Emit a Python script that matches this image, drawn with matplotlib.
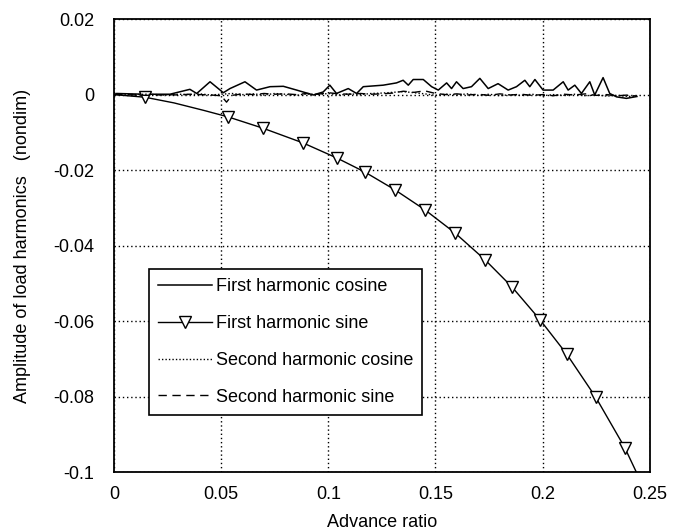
import matplotlib
matplotlib.use('Agg')
import matplotlib.pyplot as plt

plt.rcParams['font.family'] = ['Liberation Sans', 'DejaVu Sans']

# first harmonic cosine (noisy, slightly positive)
cos1_x = [0.0, 0.0012, 0.0137, 0.0261, 0.0354, 0.0386, 0.0448, 0.0510, 0.0541,
          0.0611, 0.0665, 0.0728, 0.0790, 0.0852, 0.0930, 0.0976, 0.1007, 0.1038,
          0.1093, 0.1132, 0.1163, 0.1256, 0.1318, 0.1349, 0.1373, 0.1396, 0.1443,
          0.1482, 0.1513, 0.1552, 0.1575, 0.1598, 0.1629, 0.1668, 0.1707, 0.1746,
          0.1792, 0.1839, 0.1878, 0.1917, 0.1940, 0.1964, 0.2002, 0.2049, 0.2096,
          0.2119, 0.2150, 0.2181, 0.2220, 0.2243, 0.2282, 0.2313, 0.2345, 0.2391,
          0.2440]
cos1_y = [0.0, 0.0003, 0.0001, 0.0001, 0.0014, 0.0003, 0.0034, 0.0005, 0.0016,
          0.0034, 0.0012, 0.0021, 0.0022, 0.0012, -0.0001, 0.0007, 0.0025, 0.0003,
          0.0016, 0.0003, 0.0021, 0.0025, 0.0031, 0.0038, 0.0025, 0.0040, 0.0040,
          0.0021, 0.0012, 0.0031, 0.0016, 0.0034, 0.0016, 0.0021, 0.0043, 0.0016,
          0.0029, 0.0012, 0.0021, 0.0038, 0.0021, 0.0040, 0.0012, 0.0012, 0.0034,
          0.0012, 0.0025, 0.0003, 0.0034, -0.0001, 0.0045, 0.0003, -0.0006, -0.0010,
          -0.0005]

# first harmonic sine (falls off with advance ratio)
sin1_x = [0.0, 0.0145, 0.0280, 0.0420, 0.0532, 0.0695, 0.0882, 0.1040, 0.1170,
          0.1310, 0.1450, 0.1590, 0.1730, 0.1856, 0.1987, 0.2113, 0.2248, 0.2383,
          0.2437]
sin1_y = [0.0, -0.0007, -0.0022, -0.0042, -0.0059, -0.0089, -0.0128, -0.0168, -0.0205,
          -0.0252, -0.0305, -0.0366, -0.0437, -0.0509, -0.0596, -0.0688, -0.0802, -0.0935,
          -0.1000]
sin1_marks = [1, 4, 5, 6, 7, 8, 9, 10, 11, 12, 13, 14, 15, 16, 17]

# second harmonics, both hovering around zero
h2_x = [0.0, 0.005, 0.01, 0.015, 0.02, 0.025, 0.03, 0.035, 0.04, 0.045,
        0.05, 0.0525, 0.055, 0.06, 0.065, 0.07, 0.075, 0.08, 0.085, 0.09,
        0.095, 0.1, 0.105, 0.11, 0.115, 0.12, 0.125, 0.13, 0.135, 0.14,
        0.145, 0.15, 0.155, 0.16, 0.165, 0.17, 0.175, 0.18, 0.185, 0.19,
        0.195, 0.2, 0.205, 0.21, 0.215, 0.22, 0.225, 0.23, 0.235, 0.24, 0.244]
cos2_y = [0.0, 0.0001, 0.0, 0.0001, 0.0, -0.0001, 0.0001, 0.0, 0.0002, -0.0001,
          0.0001, 0.0002, 0.0003, 0.0, 0.0002, -0.0001, 0.0003, 0.0001, -0.0002, 0.0002,
          0.0, 0.0003, -0.0001, 0.0002, 0.0, 0.0003, 0.0004, 0.0006, 0.0008, 0.0005,
          0.0002, -0.0002, 0.0001, -0.0001, 0.0002, -0.0002, 0.0001, -0.0003, 0.0, -0.0002,
          0.0001, -0.0003, 0.0, -0.0002, 0.0001, -0.0003, -0.0001, -0.0004, -0.0002, -0.0005, -0.0004]
sin2_y = [0.0, 0.0, -0.0001, -0.0002, -0.0001, 0.0, -0.0001, 0.0001, 0.0, -0.0001,
          -0.0003, -0.0020, -0.0002, 0.0002, 0.0, 0.0003, 0.0001, 0.0002, 0.0, 0.0003,
          0.0001, 0.0005, 0.0002, 0.0001, 0.0003, 0.0001, 0.0002, 0.0004, 0.0009, 0.0006,
          0.0010, 0.0003, 0.0, 0.0002, -0.0001, 0.0001, -0.0002, 0.0002, -0.0001, 0.0001,
          -0.0002, 0.0, -0.0003, 0.0001, -0.0001, 0.0002, -0.0002, 0.0, -0.0003, -0.0001, -0.0004]

x_ticks = [0, 0.05, 0.1, 0.15, 0.2, 0.25]
x_labels = ['0', '0.05', '0.1', '0.15', '0.2', '0.25']
y_ticks = [0.02, 0, -0.02, -0.04, -0.06, -0.08, -0.1]
y_labels = ['0.02', '0', '-0.02', '-0.04', '-0.06', '-0.08', '-0.1']

fig = plt.figure(figsize=(6.84, 5.31), dpi=100)
ax = fig.add_axes([0.1667, 0.111, 0.7833, 0.853])

ax.plot(cos1_x, cos1_y, color='black', lw=1.1, label='First harmonic cosine')
ax.plot(sin1_x, sin1_y, color='black', lw=1.0, marker='v', markevery=sin1_marks,
        markersize=8, markerfacecolor='white', markeredgecolor='black',
        markeredgewidth=1.0, label='First harmonic sine')
ax.plot(h2_x, cos2_y, color='black', lw=1.0, linestyle=(0, (1, 1.5)),
        label='Second harmonic cosine')
ax.plot(h2_x, sin2_y, color='black', lw=1.0, linestyle=(0, (6, 4)),
        label='Second harmonic sine')

ax.set_xlim(0, 0.25)
ax.set_ylim(-0.1, 0.02)
ax.set_xticks(x_ticks)
ax.set_xticklabels(x_labels)
ax.set_yticks(y_ticks)
ax.set_yticklabels(y_labels)
ax.tick_params(length=0, labelsize=13)
ax.tick_params(axis='x', pad=10)
ax.tick_params(axis='y', pad=14)
ax.grid(True, color='black', linestyle=(0, (1, 2)), lw=1.0)
for s in ax.spines.values():
    s.set_linewidth(1.3)

ax.set_xlabel('Advance ratio', fontsize=13, labelpad=8)
ax.set_ylabel('Amplitude of load harmonics   (nondim)', fontsize=13, labelpad=16)

leg = ax.legend(loc='upper left', bbox_to_anchor=(0.065, 0.448), fontsize=13,
                frameon=True, fancybox=False, edgecolor='black', framealpha=1,
                handlelength=3.0, handletextpad=0.2, labelspacing=1.1,
                borderpad=0.5, borderaxespad=0, numpoints=1)
leg.get_frame().set_linewidth(1.2)

fig.savefig('out.png', dpi=100)
